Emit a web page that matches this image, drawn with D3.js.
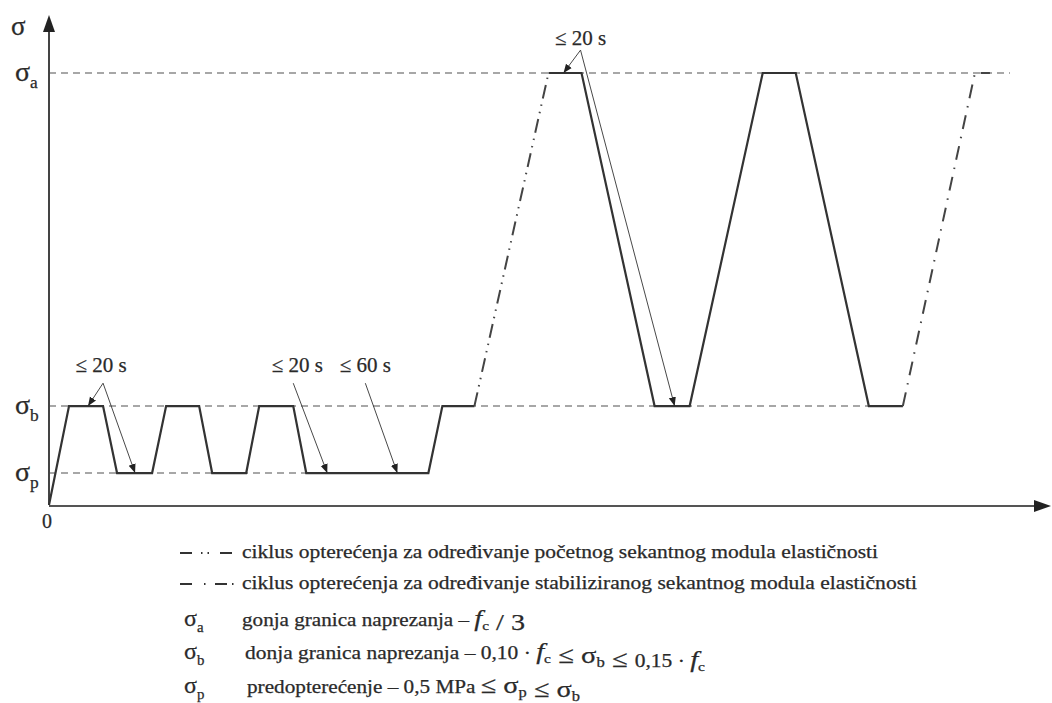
<!DOCTYPE html>
<html>
<head>
<meta charset="utf-8">
<script src="https://cdn.jsdelivr.net/npm/d3@7"></script>
<style>
  body { margin: 0; background: #fff; }
</style>
</head>
<body>
<div id="chart"></div>
<script>
// stress levels (sigma_a = 1)
var sigmaP = 0.074, sigmaB = 0.229, sigmaA = 1;

// time values (arbitrary units) and stress values of each piece of the loading path
var firstCycleT = [0, 2, 5.4, 6.8, 10.3, 11.7, 15, 16.3, 19.7, 21, 24.4, 25.7, 37.9, 39.3, 42.5];
var firstCycleS = [0, sigmaB, sigmaB, sigmaP, sigmaP, sigmaB, sigmaB, sigmaP, sigmaP, sigmaB, sigmaB, sigmaP, sigmaP, sigmaB, sigmaB];
var initialT = [42.5, 49.9];
var initialS = [sigmaB, sigmaA];
var secondCycleT = [49.9, 53.2, 60.5, 64, 71.3, 74.6, 81.9, 85.3];
var secondCycleS = [sigmaA, sigmaA, sigmaB, sigmaB, sigmaA, sigmaA, sigmaB, sigmaB];
var stabilT = [85.3, 92.5, 94];
var stabilS = [sigmaB, sigmaA, sigmaA];

// reference levels and where their dashed lines end
var refNames = ["a", "b", "p"];
var refLevels = [sigmaA, sigmaB, sigmaP];
var refEnds = [96, 85.3, 37.9];

// time annotations: label, label position, apex, arrow targets
var noteLabels = ["≤ 20 s", "≤ 20 s", "≤ 60 s", "≤ 20 s"];
var noteLabelT = [5.2, 24.8, 31.6, 53.1];
var noteLabelS = [0.307, 0.307, 0.307, 1.064];
var noteApexT = [5.4, 24.4, 31.6, 53.1];
var noteApexS = [0.282, 0.282, 0.282, 1.053];
var noteTargetT = [[3.9, 8.6], [27.8], [34.8], [51.4, 62.5]];
var noteTargetS = [[sigmaB, sigmaP], [sigmaP], [sigmaP], [sigmaA, sigmaB]];

// legend texts
var legendLines = [
    "ciklus opterećenja za određivanje početnog sekantnog modula elastičnosti",
    "ciklus opterećenja za određivanje stabiliziranog sekantnog modula elastičnosti"
];

var width = 1052, height = 703;
var serif = "'Liberation Serif'";

var svg = d3.select("#chart").append("svg")
    .attr("width", width)
    .attr("height", height);

// every text gets the serif font and a dark grey ink
function txt(sel) {
    return sel.append("text")
        .style("font-family", serif)
        .attr("fill", "#2a2a2a")
        .attr("stroke", "#2a2a2a")
        .attr("stroke-width", 0.25);
}

// scales
var x = d3.scaleLinear().domain([0, 100]).range([49, 1050]);
var y = d3.scaleLinear().domain([0, 1]).range([505, 73]);

var line = d3.line()
    .x(function (d) { return x(d[0]); })
    .y(function (d) { return y(d[1]); });

function pairs(ts, ss) {
    return ts.map(function (t, i) { return [t, ss[i]]; });
}

// arrow marker for annotations
svg.append("defs").append("marker")
    .attr("id", "tip")
    .attr("viewBox", "0 0 10 10")
    .attr("refX", 10).attr("refY", 5)
    .attr("markerWidth", 9).attr("markerHeight", 9)
    .attr("markerUnits", "userSpaceOnUse")
    .attr("orient", "auto")
    .append("path")
    .attr("d", "M0,1 L10,5 L0,9 Z")
    .attr("fill", "#222");

// dashed reference lines
refLevels.forEach(function (v, i) {
    svg.append("line")
        .attr("x1", x(0)).attr("x2", x(refEnds[i]))
        .attr("y1", y(v)).attr("y2", y(v))
        .attr("stroke", "#8a8a8a")
        .attr("stroke-width", 1.4)
        .attr("stroke-dasharray", "7,5");
});

// axes with arrows
var axisTop = 15, axisRight = 1051;
svg.append("line")
    .attr("x1", x(0)).attr("y1", y(0))
    .attr("x2", x(0)).attr("y2", axisTop + 14)
    .attr("stroke", "#444").attr("stroke-width", 2);
svg.append("path")
    .attr("d", "M" + x(0) + "," + axisTop + " L" + (x(0) - 6) + "," + (axisTop + 17) + " L" + (x(0) + 6) + "," + (axisTop + 17) + " Z")
    .attr("fill", "#222");
svg.append("line")
    .attr("x1", x(0)).attr("y1", y(0) + 1)
    .attr("x2", axisRight - 14).attr("y2", y(0) + 1)
    .attr("stroke", "#555").attr("stroke-width", 2);
svg.append("path")
    .attr("d", "M" + axisRight + "," + (y(0) + 1) + " L" + (axisRight - 17) + "," + (y(0) - 5) + " L" + (axisRight - 17) + "," + (y(0) + 7) + " Z")
    .attr("fill", "#222");

// loading path
svg.append("path")
    .datum(pairs(firstCycleT, firstCycleS))
    .attr("d", line)
    .attr("fill", "none").attr("stroke", "#333").attr("stroke-width", 2.2);
svg.append("path")
    .datum(pairs(initialT, initialS))
    .attr("d", line)
    .attr("fill", "none").attr("stroke", "#444").attr("stroke-width", 2)
    .attr("stroke-dasharray", "14,6,1.5,6,1.5,6");
svg.append("path")
    .datum(pairs(secondCycleT, secondCycleS))
    .attr("d", line)
    .attr("fill", "none").attr("stroke", "#333").attr("stroke-width", 2.2);
svg.append("path")
    .datum(pairs(stabilT, stabilS))
    .attr("d", line)
    .attr("fill", "none").attr("stroke", "#444").attr("stroke-width", 2)
    .attr("stroke-dasharray", "14,8,1.5,8");

// annotations
noteLabels.forEach(function (lab, i) {
    txt(svg)
        .attr("x", x(noteLabelT[i])).attr("y", y(noteLabelS[i]))
        .attr("text-anchor", "middle")
        .attr("font-size", 21)
        .text(lab);
    noteTargetT[i].forEach(function (t, j) {
        svg.append("line")
            .attr("x1", x(noteApexT[i])).attr("y1", y(noteApexS[i]))
            .attr("x2", x(t)).attr("y2", y(noteTargetS[i][j]))
            .attr("stroke", "#333").attr("stroke-width", 0.9)
            .attr("marker-end", "url(#tip)");
    });
});

// axis labels
function sigmaLabel(xp, yp, sub, size) {
    var t = txt(svg).attr("x", xp).attr("y", yp).attr("font-size", size);
    t.append("tspan").text("σ");
    if (sub) {
        t.append("tspan").attr("dy", size * 0.25).attr("font-size", size * 0.62).text(sub);
    }
    return t;
}
sigmaLabel(11, 35, null, 27);
refLevels.forEach(function (v, i) {
    sigmaLabel(15, y(v) + 8, refNames[i], 28);
});
txt(svg)
    .attr("x", 47).attr("y", 528)
    .attr("text-anchor", "middle")
    .attr("font-size", 20)
    .text("0");

// legend
var legendY = [558, 589, 626, 659, 693];
var legendSym = [[12, 9, 1.5, 5, 1.5, 11, 12], [12, 12, 1.5, 9.5, 12, 5, 1.5]];
legendLines.forEach(function (s, i) {
    svg.append("line")
        .attr("x1", 180).attr("x2", i === 0 ? 232 : 235)
        .attr("y1", legendY[i] - 5).attr("y2", legendY[i] - 5)
        .attr("stroke", "#333").attr("stroke-width", 2.2)
        .attr("stroke-dasharray", legendSym[i].join(","));
    txt(svg)
        .attr("x", 242).attr("y", legendY[i])
        .attr("font-size", 18)
        .attr("textLength", i === 0 ? 636 : 675)
        .attr("lengthAdjust", "spacingAndGlyphs")
        .text(s);
});

function fc(t) {
    t.append("tspan").attr("font-style", "italic").attr("font-size", 24).text("f");
    t.append("tspan").attr("font-size", 13).attr("dy", 4).text("c");
    t.append("tspan").attr("dy", -4).text("");
}
function sig(t, sub) {
    t.append("tspan").attr("font-size", 24).text("σ");
    t.append("tspan").attr("font-size", 14).attr("dy", 4).text(sub);
    t.append("tspan").attr("dy", -4).text("");
}

refNames.forEach(function (n, i) {
    sigmaLabel(184, legendY[i + 2], n, 24);
});

// sigma_a row
var r1 = txt(svg).attr("x", 242).attr("y", legendY[2]).attr("font-size", 18)
    .attr("textLength", 283).attr("lengthAdjust", "spacingAndGlyphs");
r1.append("tspan").text("gonja granica naprezanja – ");
fc(r1);
r1.append("tspan").attr("font-size", 24).text(" / 3");

// sigma_b row
var r2 = txt(svg).attr("x", 245).attr("y", legendY[3]).attr("font-size", 18)
    .attr("textLength", 460).attr("lengthAdjust", "spacingAndGlyphs");
r2.append("tspan").text("donja granica naprezanja – 0,10 · ");
fc(r2);
r2.append("tspan").attr("font-size", 24).text(" ≤ ");
sig(r2, "b");
r2.append("tspan").attr("font-size", 24).text(" ≤ ");
r2.append("tspan").text("0,15 · ");
fc(r2);

// sigma_p row
var r3 = txt(svg).attr("x", 247).attr("y", legendY[4]).attr("font-size", 18)
    .attr("textLength", 333).attr("lengthAdjust", "spacingAndGlyphs");
r3.append("tspan").text("predopterećenje – 0,5 MPa ");
r3.append("tspan").attr("font-size", 24).text("≤ ");
sig(r3, "p");
r3.append("tspan").attr("font-size", 24).text(" ≤ ");
sig(r3, "b");
</script>
</body>
</html>
